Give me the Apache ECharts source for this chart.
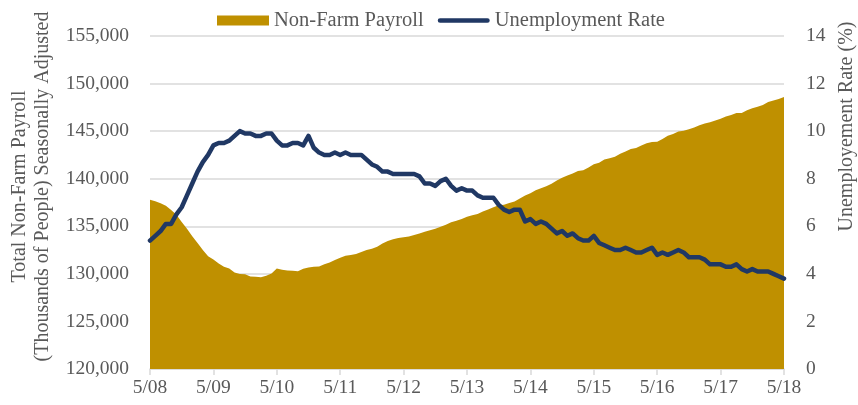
<!DOCTYPE html>
<html>
<head>
<meta charset="utf-8">
<script src="https://cdn.jsdelivr.net/npm/echarts@6/dist/echarts.min.js"></script>
<style>html,body{margin:0;padding:0;background:#fff}#c{width:858px;height:405px}</style>
</head>
<body>
<div id="c"></div>
<script>
// Monthly categories May 2008 .. May 2018
const months = [];
for (let y = 2008; y <= 2018; y++) {
  for (let m = 1; m <= 12; m++) {
    if (y === 2008 && m < 5) continue;
    if (y === 2018 && m > 5) continue;
    months.push(m + '/' + String(y).slice(2));
  }
}

// Total Non-Farm Payroll (thousands), May 2008 .. May 2018
const payroll = [
  137800, 137640, 137420, 137150, 136700, 136200, 135450, 134750,
  133950, 133250, 132500, 131850, 131500, 131080, 130750, 130560, 130150, 129980, 129950, 129720,
  129700, 129650, 129800, 130050, 130550, 130420, 130350, 130330, 130280, 130540, 130680, 130760,
  130780, 131000, 131200, 131450, 131680, 131900, 131980, 132100, 132300, 132500, 132650, 132860,
  133200, 133450, 133650, 133760, 133860, 133930, 134080, 134250, 134420, 134590, 134740, 134960,
  135150, 135430, 135570, 135770, 135990, 136160, 136300, 136560, 136760, 136990, 137200, 137270,
  137440, 137610, 137920, 138230, 138460, 138790, 139010, 139220, 139470, 139820, 140090, 140350,
  140540, 140810, 140900, 141170, 141510, 141690, 142020, 142160, 142300, 142620, 142850, 143120,
  143240, 143500, 143740, 143860, 143890, 144170, 144510, 144700, 144950, 145050, 145200, 145390,
  145610, 145800, 145940, 146130, 146290, 146530, 146700, 146900, 146920, 147190, 147400, 147570,
  147750, 148070, 148210, 148380, 148580
];

// Unemployment rate (%), May 2008 .. May 2018
const unemployment = [
  5.4, 5.6, 5.8, 6.1, 6.1, 6.5, 6.8, 7.3,
  7.8, 8.3, 8.7, 9.0, 9.4, 9.5, 9.5, 9.6, 9.8, 10.0, 9.9, 9.9,
  9.8, 9.8, 9.9, 9.9, 9.6, 9.4, 9.4, 9.5, 9.5, 9.4, 9.8, 9.3,
  9.1, 9.0, 9.0, 9.1, 9.0, 9.1, 9.0, 9.0, 9.0, 8.8, 8.6, 8.5,
  8.3, 8.3, 8.2, 8.2, 8.2, 8.2, 8.2, 8.1, 7.8, 7.8, 7.7, 7.9,
  8.0, 7.7, 7.5, 7.6, 7.5, 7.5, 7.3, 7.2, 7.2, 7.2, 6.9, 6.7,
  6.6, 6.7, 6.7, 6.2, 6.3, 6.1, 6.2, 6.1, 5.9, 5.7, 5.8, 5.6,
  5.7, 5.5, 5.4, 5.4, 5.6, 5.3, 5.2, 5.1, 5.0, 5.0, 5.1, 5.0,
  4.9, 4.9, 5.0, 5.1, 4.8, 4.9, 4.8, 4.9, 5.0, 4.9, 4.7, 4.7,
  4.7, 4.6, 4.4, 4.4, 4.4, 4.3, 4.3, 4.4, 4.2, 4.1, 4.2, 4.1,
  4.1, 4.1, 4.0, 3.9, 3.8
];

const leftName = 'Total Non-Farm Payroll\n(Thousands of People) Seasonally Adjusted';
const rightName = 'Unemployement Rate (%)';
const seriesNames = ['Non-Farm Payroll', 'Unemployment Rate'];

const FONT = '"Liberation Serif", "DejaVu Serif", serif';
const TXT = '#595959';
const GRID = '#d9d9d9';
const GOLD = '#BF9000';
const NAVY = '#203864';
const LINE_ICON = 'path://M2.5,0 L53.5,0 A2.5,2.5 0 0 1 53.5,5 L2.5,5 A2.5,2.5 0 0 1 2.5,0 Z';

const chart = echarts.init(document.getElementById('c'), null, {renderer: 'canvas'});
chart.setOption({
  animation: false,
  textStyle: {fontFamily: FONT, color: TXT},
  legend: {
    top: 5,
    left: 212,
    itemWidth: 52,
    itemHeight: 10,
    itemGap: 14,
    textStyle: {fontFamily: FONT, fontSize: 20.5, color: TXT},
    data: [{name: seriesNames[0], icon: 'rect'}, {name: seriesNames[1], icon: LINE_ICON}]
  },
  grid: {left: 150, right: 74, top: 36, bottom: 36, containLabel: false, outerBoundsMode: 'none'},
  xAxis: {
    type: 'category',
    data: months,
    boundaryGap: false,
    axisLine: {show: true, lineStyle: {color: GRID, width: 1.5}},
    axisTick: {show: true, interval: 11, length: 6, lineStyle: {color: GRID, width: 1.5}},
    axisLabel: {interval: 11, margin: 9, fontFamily: FONT, fontSize: 19.5, color: TXT},
    splitLine: {show: false}
  },
  yAxis: [
    {
      type: 'value',
      min: 120000, max: 155000, interval: 5000,
      position: 'left',
      name: leftName,
      nameLocation: 'middle',
      nameRotate: 90,
      nameGap: 96,
      nameTextStyle: {fontFamily: FONT, fontSize: 20, color: TXT, lineHeight: 23, padding: [0, 0, 0, 32]},
      axisLine: {show: false},
      axisTick: {show: false},
      axisLabel: {margin: 21, fontFamily: FONT, fontSize: 19.5, color: TXT,
        formatter: v => v.toLocaleString('en-US')},
      splitLine: {show: true, lineStyle: {color: GRID, width: 1.5}}
    },
    {
      type: 'value',
      min: 0, max: 14, interval: 2,
      position: 'right',
      name: rightName,
      nameLocation: 'middle',
      nameRotate: 90,
      nameGap: 49,
      nameTextStyle: {fontFamily: FONT, fontSize: 20, color: TXT, padding: [0, 0, 0, 152]},
      axisLine: {show: false},
      axisTick: {show: false},
      axisLabel: {margin: 22, fontFamily: FONT, fontSize: 19.5, color: TXT},
      splitLine: {show: false}
    }
  ],
  series: [
    {
      name: seriesNames[0],
      type: 'line',
      yAxisIndex: 0,
      data: payroll,
      showSymbol: false,
      symbol: 'none',
      color: GOLD,
      lineStyle: {width: 0, color: GOLD},
      areaStyle: {color: GOLD, opacity: 1},
      z: 1
    },
    {
      name: seriesNames[1],
      type: 'line',
      yAxisIndex: 1,
      data: unemployment,
      showSymbol: false,
      symbol: 'none',
      color: NAVY,
      lineStyle: {width: 4.5, color: NAVY, cap: 'round', join: 'round'},
      z: 3
    }
  ]
});
</script>
</body>
</html>
